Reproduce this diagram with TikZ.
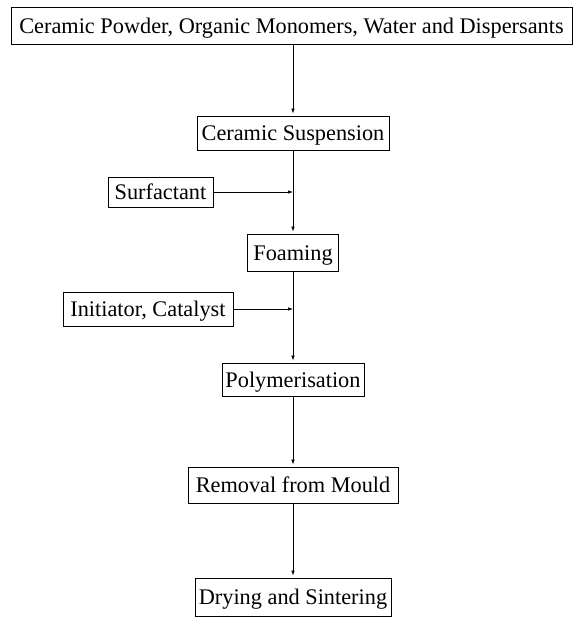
\documentclass[tikz,border=0pt]{standalone}
\usepackage{fontspec}
\setmainfont{Liberation Serif}
\usepackage{tikz}
\usetikzlibrary{arrows.meta}

\begin{document}
\begin{tikzpicture}[x=1pt,y=-1pt,
  stepbox/.style={draw,line width=0.9pt,inner sep=0pt,text height=15pt,text depth=0pt,
    font=\fontsize{22.3}{25}\selectfont},
  flow/.style={line width=0.6pt,-{Latex[length=5pt,width=3.5pt]},shorten >=2pt}]
\useasboundingbox (0,0) rectangle (577,619);
\node[stepbox,minimum width=561pt,minimum height=37pt] (raw) at (291.5,25.5) {Ceramic Powder, Organic Monomers, Water and Dispersants};
\node[stepbox,minimum width=192pt,minimum height=34pt] (susp) at (293,133) {Ceramic Suspension};
\node[stepbox,minimum width=105pt,minimum height=30pt] (surf) at (160.5,192) {Surfactant};
\node[stepbox,minimum width=91pt,minimum height=37pt] (foam) at (293,252.5) {Foaming};
\node[stepbox,minimum width=170pt,minimum height=34pt] (init) at (148,309) {Initiator, Catalyst};
\node[stepbox,minimum width=142pt,minimum height=33pt] (poly) at (293,379.5) {Polymerisation};
\node[stepbox,minimum width=210pt,minimum height=36pt] (mould) at (293,485) {Removal from Mould};
\node[stepbox,minimum width=196pt,minimum height=38pt] (dry) at (293,597) {Drying and Sintering};
\coordinate (j1) at (293,192);
\coordinate (j2) at (293,309);
% main line
\draw[flow] (raw.south -| susp) -- (susp);
\draw[flow] (susp) -- (foam);
\draw[flow] (foam) -- (poly);
\draw[flow] (poly) -- (mould);
\draw[flow] (mould) -- (dry);
% additions
\draw[flow,shorten >=0pt] (surf) -- (j1);
\draw[flow,shorten >=0pt] (init) -- (j2);
\end{tikzpicture}
\end{document}
